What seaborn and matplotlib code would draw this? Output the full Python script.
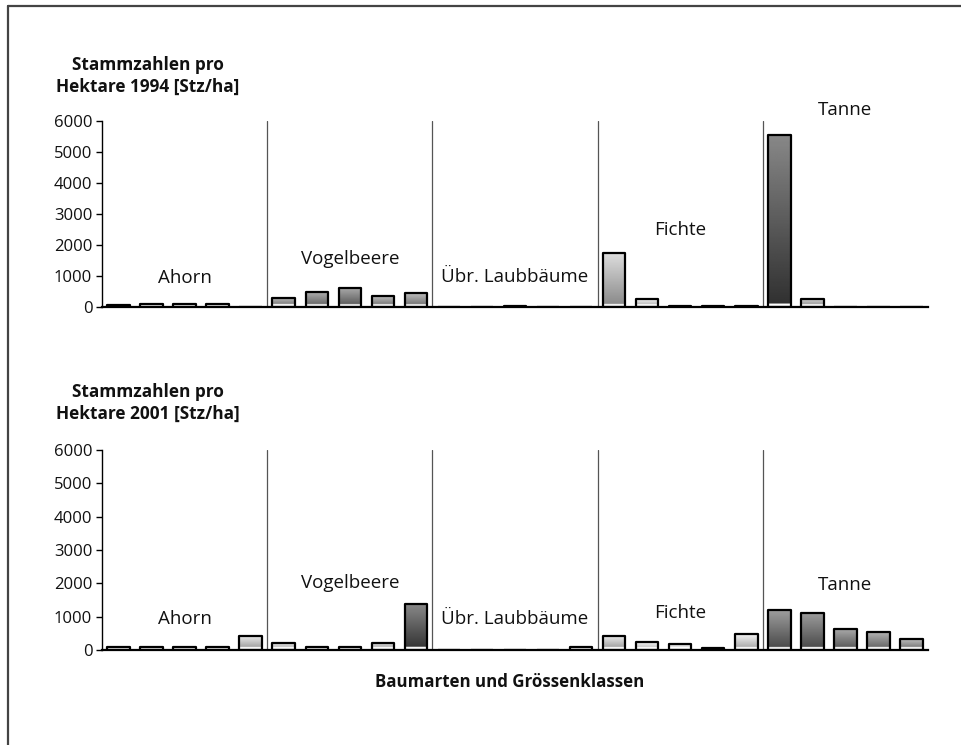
import numpy as np
import matplotlib
matplotlib.use("Agg")
import matplotlib.pyplot as plt
import seaborn as sns
from matplotlib.lines import Line2D

# data
SPECIES = ["Ahorn", "Vogelbeere", "Übr. Laubbäume", "Fichte", "Tanne"]
SIZE_CLASSES = ["1", "2", "3", "4", "5"]
STZ_1994 = [60, 100, 100, 100, 0,
            300, 500, 600, 350, 450,
            0, 0, 30, 0, 0,
            1750, 250, 30, 30, 30,
            5550, 250, 0, 0, 0]
STZ_2001 = [100, 100, 100, 100, 420,
            200, 100, 100, 200, 1375,
            0, 0, 0, 0, 100,
            420, 240, 190, 50, 480,
            1200, 1120, 630, 540, 330]
Y_TICKS = [0, 1000, 2000, 3000, 4000, 5000, 6000]
TITLES = ["Stammzahlen pro\nHektare 1994 [Stz/ha]",
          "Stammzahlen pro\nHektare 2001 [Stz/ha]"]
XLABEL = "Baumarten und Grössenklassen"

# styling: darkness of each bar's shading (0 light .. 1 dark)
SHADE_1994 = [0.85, 0.6, 0.6, 0.6, 0,
              0.65, 0.7, 0.75, 0.65, 0.65,
              0, 0, 0.95, 0, 0,
              0.5, 0.4, 0.95, 0.95, 0.95,
              0.9, 0.55, 0, 0, 0]
SHADE_2001 = [0.3, 0.3, 0.3, 0.3, 0.45,
              0.45, 0.3, 0.3, 0.5, 0.9,
              0, 0, 0, 0, 0.25,
              0.45, 0.35, 0.3, 0.95, 0.4,
              0.8, 0.8, 0.75, 0.7, 0.65]
# label anchor (slot index, y value) per panel
LABEL_POS_1994 = [(2, 930), (7, 1550), (12, 970), (17, 2480), (22, 6350)]
LABEL_POS_2001 = [(2, 930), (7, 2000), (12, 930), (17, 1110), (22, 1960)]

sns.set_theme(style="white")
plt.rcParams["font.family"] = ["Open Sans", "DejaVu Sans"]

categories = [f"{s}-{k}" for s in SPECIES for k in SIZE_CLASSES]


def shade_bars(ax, values, shades):
    for patch, v, d in zip(ax.patches, values, shades):
        if v <= 0:
            continue
        x0 = patch.get_x()
        w = patch.get_width()
        ys = np.linspace(0, v, 200)
        bottom = 0.95 - 0.85 * d
        top = min(0.97, bottom + 0.35)
        grey = bottom + (top - bottom) * ys / v
        grey[ys < 90] = 1.0
        img = np.repeat(grey[:, None], 2, axis=1)
        im = ax.imshow(img, extent=[x0, x0 + w, 0, v], origin="lower",
                       aspect="auto", cmap="gray", vmin=0, vmax=1,
                       interpolation="bilinear", zorder=patch.get_zorder() - 0.1)
        im.set_clip_path(patch)
        patch.set_facecolor("none")


def draw_panel(ax, values, shades, label_pos):
    sns.barplot(x=categories, y=values, color="white", edgecolor="black",
                linewidth=1.6, width=0.68, ax=ax, saturation=1)
    for p in ax.patches:
        p.set_joinstyle("round")
    shade_bars(ax, values, shades)
    for i in range(1, len(SPECIES)):
        ax.axvline(i * len(SIZE_CLASSES) - 0.5, color="#555555", lw=0.9, zorder=0.5)
    for name, (xs, ys) in zip(SPECIES, label_pos):
        ax.text(xs, ys, name, ha="center", va="center", fontsize=13.5,
                color="#111111", clip_on=False)
    ax.set_xlim(-0.5, len(categories) - 0.5)
    ax.set_ylim(0, 6000)
    ax.set_yticks(Y_TICKS)
    ax.set_yticklabels([str(t) for t in Y_TICKS], fontsize=12)
    ax.set_xticks([])
    ax.set_xlabel("")
    ax.set_ylabel("")
    ax.tick_params(axis="y", direction="out", length=4, width=1, color="black",
                   left=True, pad=3, labelcolor="#111111")
    sns.despine(ax=ax)
    ax.spines["left"].set_color("black")
    ax.spines["left"].set_linewidth(1.0)
    ax.spines["bottom"].set_color("black")
    ax.spines["bottom"].set_linewidth(1.6)


fig = plt.figure(figsize=(9.62, 7.45), dpi=100)
ax1 = fig.add_axes([102 / 962, 1 - 307 / 745, 826 / 962, 186 / 745])
ax2 = fig.add_axes([102 / 962, 1 - 650 / 745, 826 / 962, 200 / 745])

draw_panel(ax1, STZ_1994, SHADE_1994, LABEL_POS_1994)
draw_panel(ax2, STZ_2001, SHADE_2001, LABEL_POS_2001)

fig.text(148 / 962, 1 - 76 / 745, TITLES[0], ha="center", va="center",
         fontsize=12.4, fontweight="bold", linespacing=1.3, color="#111111")
fig.text(148 / 962, 1 - 403 / 745, TITLES[1], ha="center", va="center",
         fontsize=12.4, fontweight="bold", linespacing=1.3, color="#111111")
fig.text(510 / 962, 1 - 682 / 745, XLABEL, ha="center", va="center",
         fontsize=12.2, fontweight="bold", color="#111111")

# scanned page frame (left and top edges visible)
fig.add_artist(Line2D([8 / 962, 8 / 962], [0, 1 - 6 / 745],
                      transform=fig.transFigure, color="#444444", lw=1.6))
fig.add_artist(Line2D([8 / 962, 1], [1 - 6 / 745, 1 - 6 / 745],
                      transform=fig.transFigure, color="#444444", lw=1.6))

fig.savefig("out.png", dpi=100)
